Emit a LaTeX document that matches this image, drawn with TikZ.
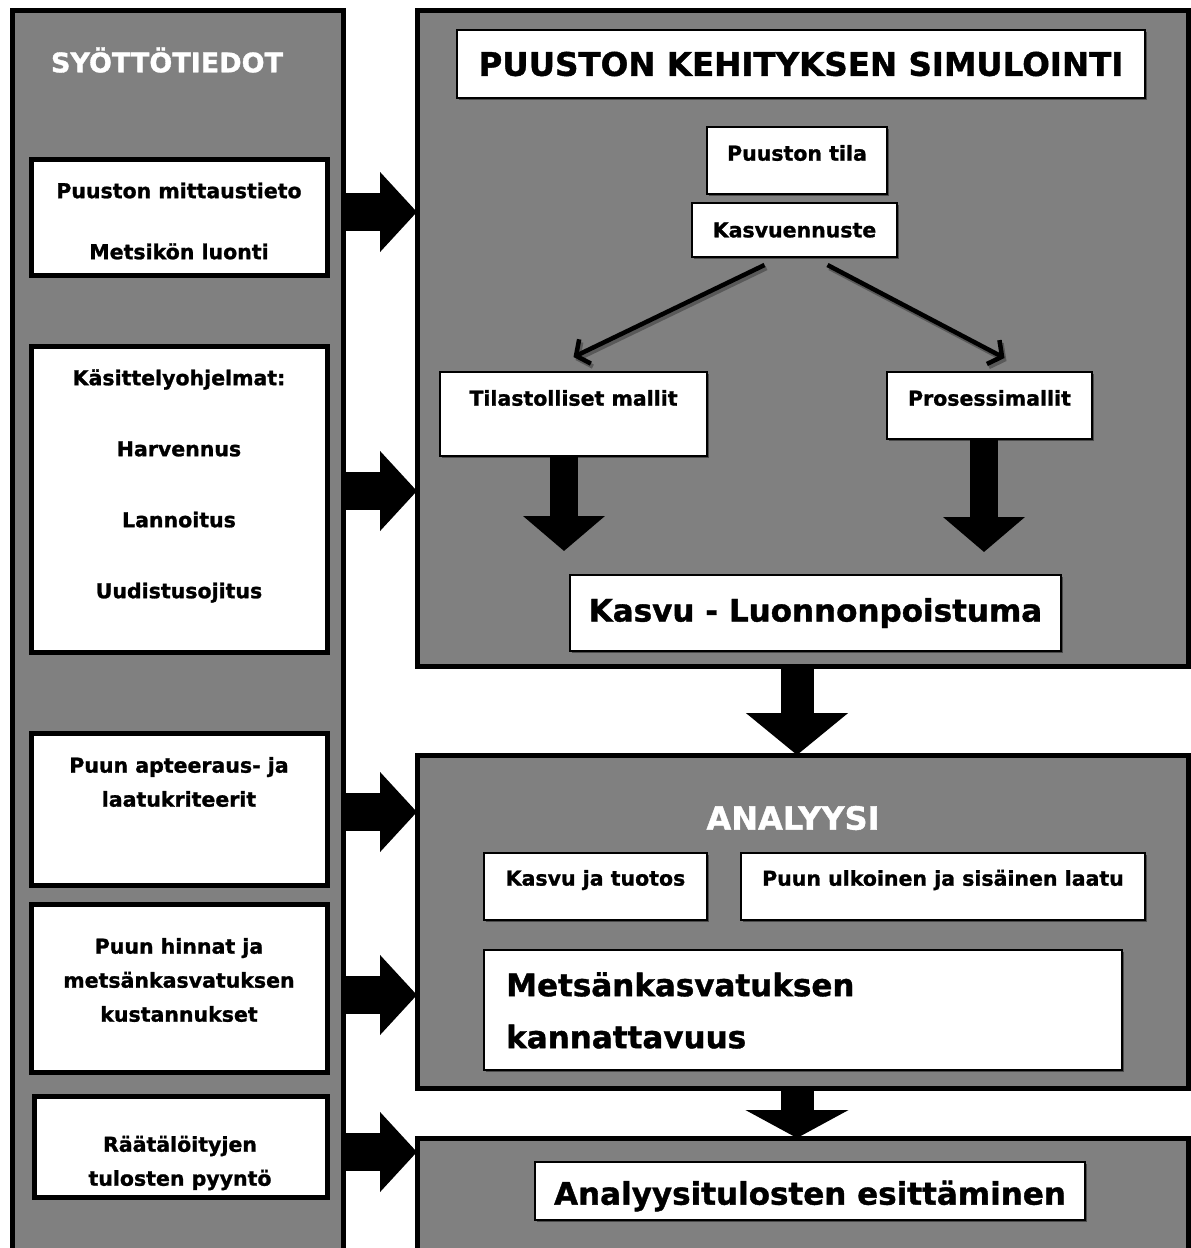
\documentclass[tikz,border=0pt]{standalone}
\usepackage{fontspec}
\setmainfont{DejaVu Sans}[BoldFeatures={FakeBold=1.2}]
\usetikzlibrary{positioning,arrows.meta,shadows}

\tikzset{
  panel/.style={draw=black, line width=5pt, fill=gray, anchor=north west, inner sep=0pt, outer sep=0pt},
  inbox/.style={draw=black, line width=5pt, fill=white, anchor=north west, inner sep=0pt, outer sep=0pt},
  simbox/.style={draw=black, line width=1.5pt, fill=white, anchor=north west, inner sep=0pt, outer sep=0pt,
    drop shadow={shadow xshift=2pt, shadow yshift=-2pt, fill=black!80, opacity=.7}},
  txt/.style={font=\fontsize{20.5}{34}\selectfont\bfseries, align=center, inner sep=0pt},
  bigtxt/.style={font=\fontsize{31}{52}\selectfont\bfseries, inner sep=0pt},
  headtxt/.style={text=white, font=\fontsize{27}{32}\selectfont\bfseries, inner sep=0pt},
  feed/.style={line width=38pt, -{Triangle[length=37pt, width=78pt]}},
  flow/.style={line width=33pt, -{Triangle[length=42pt, width=100pt]}},
  flowshort/.style={line width=33pt, -{Triangle[length=28pt, width=102pt]}},
  drop/.style={line width=28pt, -{Triangle[length=35pt, width=80pt]}},
  branch/.style={line width=4.5pt, -{Straight Barb[length=10pt, width=27pt]}},
}

\begin{document}
\begin{tikzpicture}[x=1pt, y=-1pt]
\useasboundingbox (0,0) rectangle (1191,1248);
\clip (0,0) rectangle (1191,1248);

% panels
\node[panel, minimum width=331pt, minimum height=1300pt] (inputs) at (12,10) {};
\node[panel, minimum width=771pt, minimum height=656pt] (sim) at (417,10) {};
\node[panel, minimum width=771pt, minimum height=333pt] (ana) at (417,755) {};
\node[panel, minimum width=771pt, minimum height=200pt] (res) at (417,1138) {};

\node[headtxt] (inputs-title) at (167,60) {SYÖTTÖTIEDOT};
\node[headtxt, font=\fontsize{32}{36}\selectfont\bfseries] (ana-title) at (793,818) {ANALYYSI};

% input boxes
\node[inbox, minimum width=296pt, minimum height=116pt] (mit) at (31,159) {};
\node[txt] (mit-t) at (179,221) {Puuston mittaustieto\\[27pt]Metsikön luonti};
\node[inbox, minimum width=296pt, minimum height=306pt] (ohj) at (31,346) {};
\node[txt] (ohj-t) at (179,486) {Käsittelyohjelmat:\\[37pt]Harvennus\\[37pt]Lannoitus\\[37pt]Uudistusojitus};
\node[inbox, minimum width=296pt, minimum height=152pt] (apt) at (31,733) {};
\node[txt] (apt-t) at (179,782) {Puun apteeraus- ja\\laatukriteerit};
\node[inbox, minimum width=296pt, minimum height=168pt] (hin) at (31,904) {};
\node[txt] (hin-t) at (179,980) {Puun hinnat ja\\metsänkasvatuksen\\kustannukset};
\node[inbox, minimum width=293pt, minimum height=101pt] (pyy) at (34,1096) {};
\node[txt] (pyy-t) at (180,1163) {Räätälöityjen\\tulosten pyyntö};

% simulation
\node[simbox, minimum width=688pt, minimum height=68pt, font=\fontsize{32.5}{36}\selectfont\bfseries] (simtitle) at (457,30) {PUUSTON KEHITYKSEN SIMULOINTI};
\node[simbox, minimum width=180pt, minimum height=67pt] (tila) at (707,127) {};
\node[txt] (tila-t) at ([yshift=-26pt]tila.north) {Puuston tila};
\node[simbox, minimum width=205pt, minimum height=54pt, txt] (kasv) at (692,203) {Kasvuennuste};
\node[simbox, minimum width=267pt, minimum height=84pt] (tilast) at (440,372) {};
\node[txt] (tilast-t) at ([yshift=-26pt]tilast.north) {Tilastolliset mallit};
\node[simbox, minimum width=205pt, minimum height=67pt] (proses) at (887,372) {};
\node[txt] (proses-t) at ([yshift=-26pt]proses.north) {Prosessimallit};
\node[simbox, minimum width=491pt, minimum height=76pt, bigtxt] (poist) at (570,575) {Kasvu - Luonnonpoistuma};

% analysis
\node[simbox, minimum width=223pt, minimum height=67pt] (tuot) at (484,853) {};
\node[txt] (tuot-t) at ([yshift=-27pt]tuot.north) {Kasvu ja tuotos};
\node[simbox, minimum width=404pt, minimum height=67pt] (laatu) at (741,853) {};
\node[txt] (laatu-t) at ([yshift=-27pt]laatu.north) {Puun ulkoinen ja sisäinen laatu};
\node[simbox, minimum width=638pt, minimum height=120pt] (kann) at (484,950) {};
\node[bigtxt, align=left, anchor=north west] (kann-t) at ([xshift=22pt, yshift=-22pt]kann.north west) {Metsänkasvatuksen\\kannattavuus};

% results
\node[simbox, minimum width=550pt, minimum height=58pt] (esit) at (535,1162) {};
\node[bigtxt] (esit-t) at ([yshift=-5pt]esit.center) {Analyysitulosten esittäminen};

% thin arrows with shadow
\coordinate (l-start) at ([xshift=-30pt, yshift=-8pt]kasv.south);
\coordinate (l-end) at ([yshift=15pt]tilast.north);
\coordinate (r-start) at ([xshift=33pt, yshift=-8pt]kasv.south);
\coordinate (r-end) at ([xshift=15pt, yshift=14pt]proses.north);
\draw[branch, draw=black!65, transform canvas={xshift=2pt, yshift=-3pt}] (l-start) -- (l-end);
\draw[branch, draw=black!65, transform canvas={xshift=2pt, yshift=-3pt}] (r-start) -- (r-end);
\draw[branch] (l-start) -- (l-end);
\draw[branch] (r-start) -- (r-end);

% block arrows
\coordinate (tilast-end) at (564,551);
\coordinate (proses-end) at (984,552);
\draw[drop] (tilast.south -| tilast-end) -- (tilast-end);
\draw[drop] (proses.south -| proses-end) -- (proses-end);

\draw[flow] (sim.south -| 797,0) -- (ana.north -| 797,0);
\draw[flowshort] (ana.south -| 797,0) -- (res.north -| 797,0);

\foreach \y/\t in {212/sim, 491/sim, 812/ana, 995/ana, 1152/res}
  \draw[feed] (inputs.east |- 0,\y) -- (\t.west |- 0,\y);
\end{tikzpicture}
\end{document}
